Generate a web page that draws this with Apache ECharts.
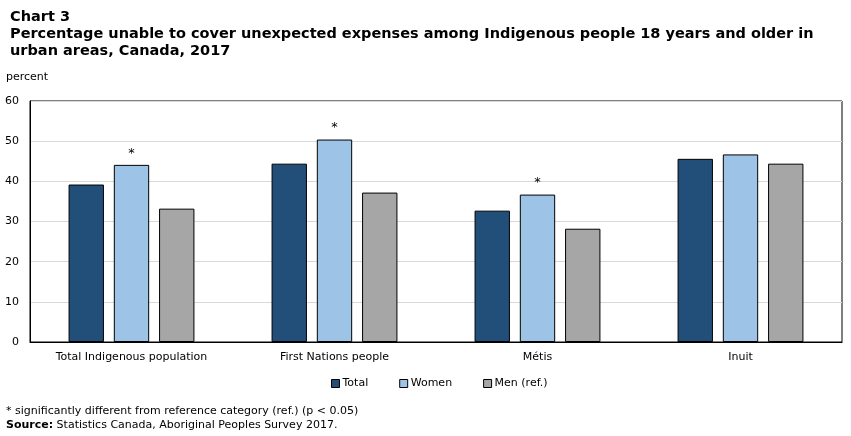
<!DOCTYPE html>
<html>
<head>
<meta charset="utf-8">
<script src="https://cdn.jsdelivr.net/npm/echarts@6/dist/echarts.min.js"></script>
<style>
  html, body { margin: 0; padding: 0; background: #fff; }
  #main { width: 851px; height: 436px; }
</style>
</head>
<body>
<div id="main"></div>
<script>
// data
var categories = ['Total Indigenous population', 'First Nations people', 'Métis', 'Inuit'];
var totalVals = [39.2, 44.4, 32.7, 45.6];
var womenVals = [44.1, 50.4, 36.7, 46.7];
var menVals = [33.2, 37.2, 28.2, 44.4];
// * = significantly different from men (ref.)
var womenSig = [true, true, true, false];
var yTicks = [0, 10, 20, 30, 40, 50, 60];

var font = 'Verdana, "DejaVu Sans", sans-serif';
var barBorder = { borderColor: '#000', borderWidth: 1 };

var myChart = echarts.init(document.getElementById('main'));

var option = {
    backgroundColor: '#fff',
    animation: false,
    textStyle: { fontFamily: font, color: '#000' },
    title: {
        text: 'Chart 3\nPercentage unable to cover unexpected expenses among Indigenous people 18 years and older in\nurban areas, Canada, 2017',
        left: 5,
        top: 4,
        textStyle: { fontFamily: font, fontSize: 14.5, fontWeight: 'bold', color: '#000', lineHeight: 17 }
    },
    legend: {
        bottom: 42,
        left: 326,
        icon: 'rect',
        itemWidth: 8,
        itemHeight: 8,
        itemGap: 31,
        itemStyle: { borderColor: '#000', borderWidth: 1 },
        textStyle: { fontFamily: font, fontSize: 11, color: '#000', padding: [0, 0, 0, -2] },
        data: ['Total', 'Women', 'Men (ref.)']
    },
    grid: {
        left: 30,
        right: 9,
        top: 101,
        bottom: 94,
        show: true,
        borderColor: '#000',
        borderWidth: 1
    },
    xAxis: {
        type: 'category',
        data: categories,
        axisLine: { show: true, lineStyle: { color: '#000' } },
        axisTick: { show: false },
        axisLabel: { fontFamily: font, fontSize: 11, color: '#000', margin: 10 }
    },
    yAxis: {
        type: 'value',
        name: 'percent',
        nameLocation: 'end',
        nameGap: 18,
        nameTextStyle: { fontFamily: font, fontSize: 11, color: '#000', align: 'left', padding: [0, 0, 0, -24] },
        min: yTicks[0],
        max: yTicks[yTicks.length - 1],
        interval: 10,
        axisLine: { show: true, lineStyle: { color: '#000' } },
        axisTick: { show: false },
        axisLabel: { fontFamily: font, fontSize: 11, color: '#000', margin: 11 },
        splitLine: { lineStyle: { color: '#d9d9d9' } }
    },
    series: [
        {
            name: 'Total',
            type: 'bar',
            data: totalVals,
            barGap: '28%',
            barCategoryGap: '38%',
            itemStyle: Object.assign({ color: '#224f79' }, barBorder)
        },
        {
            name: 'Women',
            type: 'bar',
            data: womenVals,
            itemStyle: Object.assign({ color: '#9dc3e6' }, barBorder),
            label: {
                show: true,
                position: 'top',
                distance: 5,
                fontFamily: font,
                fontSize: 13,
                color: '#000',
                formatter: function (p) { return womenSig[p.dataIndex] ? '*' : ''; }
            }
        },
        {
            name: 'Men (ref.)',
            type: 'bar',
            data: menVals,
            itemStyle: Object.assign({ color: '#a6a6a6' }, barBorder)
        }
    ],
    graphic: [
        {
            type: 'text',
            left: 6,
            top: 406,
            style: { text: '* significantly different from reference category (ref.) (p < 0.05)', font: '11px ' + font, fill: '#000' }
        },
        {
            type: 'text',
            left: 6,
            top: 420,
            style: {
                text: '{b|Source:} Statistics Canada, Aboriginal Peoples Survey 2017.',
                font: '11px ' + font,
                fill: '#000',
                rich: { b: { fontWeight: 'bold', fontFamily: font, fontSize: 11 } }
            }
        }
    ]
};

myChart.setOption(option);
</script>
</body>
</html>
